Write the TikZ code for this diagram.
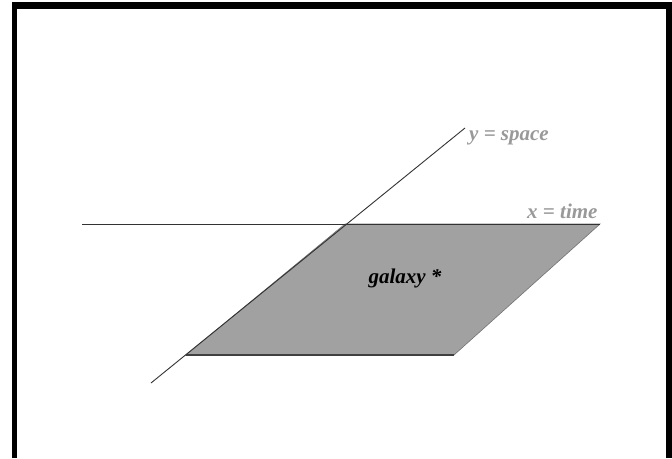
\documentclass[tikz,border=0pt]{standalone}
\usepackage{fontspec}
\setmainfont{Liberation Serif}
\begin{document}
\begin{tikzpicture}[x=1pt,y=-1pt,
  axis/.style={draw=black!80,line width=0.9pt},
  lbl/.style={text=black!40,font=\bfseries\itshape\fontsize{21}{21}\selectfont,inner sep=0pt,anchor=west},
  plane/.style={fill=black!37,draw=black!55,line width=0.6pt}]
\useasboundingbox (0,0) rectangle (672,458);
\fill[white] (0,0) rectangle (672,458);
% frame
\fill[black] (12,2) rectangle (16.5,458);
\fill[black] (12,2) rectangle (672,9);
\fill[black] (665.5,2) rectangle (672,458);
% coordinates
\coordinate (hl) at (82,224);
\coordinate (hr) at (600,224);
\coordinate (dl) at (151,383);
\coordinate (du) at (465,128);
\coordinate (tl) at (345,224);
\coordinate (br) at (454,355);
\coordinate (bl) at (186,355);
% plane
\path[plane] (tl) -- (hr) -- (br) -- (bl) -- cycle;
\draw[black!75,line width=1.2pt] (bl) -- (br);
% axes
\draw[axis] (hl) -- (hr);
\draw[axis] (dl) -- (du);
% labels
\node[lbl] (ylab) at (469,138) {y = space};
\node[lbl] (xlab) at (527,211) {x = time};
\node[font=\bfseries\itshape\fontsize{21}{21}\selectfont,inner sep=0pt] (gal) at (405,278) {galaxy *};
\end{tikzpicture}
\end{document}
